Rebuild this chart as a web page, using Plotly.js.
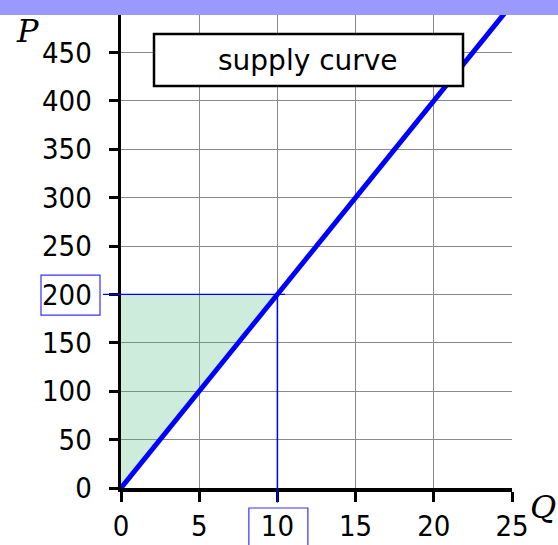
<!DOCTYPE html>
<html>
<head>
<meta charset="utf-8">
<script src="https://cdn.plot.ly/plotly-3.0.1.min.js"></script>
<style>html,body{margin:0;padding:0;background:#fff;}#chart{width:558px;height:545px;}</style>
</head>
<body>
<div id="chart"></div>
<script>
// Data
const supplyQ = [0, 25];
const supplyP = [0, 500];
const surplusQ = [0, 10, 0];
const surplusP = [0, 200, 200];
const eqQ = 10;
const eqP = 200;
const xTicks = [0, 5, 10, 15, 20, 25];
const yTicks = [0, 50, 100, 150, 200, 250, 300, 350, 400, 450];
const legendLabel = 'supply curve';

const xMax = 25, yMax = 500;
const px = q => q / xMax;   // data -> paper
const py = p => p / yMax;

const tickFont = {family: '"DejaVu Sans Condensed", "Liberation Sans", sans-serif', size: 29, color: '#000'};
const yPad = '\u00a0\u200a';

const traces = [
  {x: surplusQ, y: surplusP, mode: 'lines', fill: 'toself', fillcolor: 'rgba(60,179,113,0.25)',
   line: {width: 0}, hoverinfo: 'skip', showlegend: false},
  {x: supplyQ, y: supplyP, mode: 'lines', line: {color: '#0000ff', width: 5}, name: legendLabel, showlegend: false}
];

const layout = {
  width: 558, height: 545,
  margin: {l: 121, r: 46, t: 4, b: 57},
  paper_bgcolor: '#fff', plot_bgcolor: '#fff',
  showlegend: false,
  xaxis: {range: [0, xMax], tickvals: xTicks, ticktext: xTicks.map(String),
    showgrid: true, gridcolor: '#8a8a8a', gridwidth: 1, zeroline: false,
    showline: true, linecolor: '#000', linewidth: 3.5,
    ticks: 'outside', ticklen: 10, tickwidth: 3, tickcolor: '#000',
    tickfont: tickFont},
  yaxis: {range: [0, yMax], tickvals: yTicks, ticktext: yTicks.map(v => String(v) + yPad),
    showgrid: true, gridcolor: '#8a8a8a', gridwidth: 1, zeroline: false,
    showline: true, linecolor: '#000', linewidth: 3.5,
    ticks: 'outside', ticklen: 9, tickwidth: 3, tickcolor: '#000',
    tickfont: tickFont},
  shapes: [
    // guide lines
    {type: 'line', xref: 'paper', yref: 'paper', x0: px(-1.15), x1: px(eqQ + 0.5), y0: py(eqP), y1: py(eqP),
     line: {color: '#0000ff', width: 1.3}, layer: 'above'},
    {type: 'line', xref: 'paper', yref: 'paper', x0: px(eqQ), x1: px(eqQ), y0: py(eqP), y1: py(-15),
     line: {color: '#0000ff', width: 1.5}, layer: 'above'},
    // boxes around highlighted labels
    {type: 'rect', xref: 'paper', yref: 'paper', x0: -0.2046, x1: -0.0537, y0: 0.357, y1: 0.440,
     line: {color: '#3333ff', width: 1.2}, fillcolor: 'rgba(0,0,0,0)', layer: 'above'},
    {type: 'rect', xref: 'paper', yref: 'paper', x0: 0.327, x1: 0.478, y0: -0.2, y1: -0.0413,
     line: {color: '#3333ff', width: 1.2}, fillcolor: 'rgba(0,0,0,0)', layer: 'above'},
    // legend box
    {type: 'rect', xref: 'paper', yref: 'paper', x0: 0.0844, x1: 0.8747, y0: 0.8306, y1: 0.938,
     line: {color: '#000', width: 2.5}, fillcolor: '#fff', layer: 'above'},
    // top bar
    {type: 'rect', xref: 'paper', yref: 'paper', x0: -0.4, x1: 1.2, y0: 1 - 11/484, y1: 1.03,
     line: {width: 0}, fillcolor: '#9999ff', layer: 'above'}
  ],
  annotations: [
    {xref: 'paper', yref: 'paper', x: 0.4795, y: 0.884, text: legendLabel, showarrow: false,
     xanchor: 'center', yanchor: 'middle',
     font: {family: '"DejaVu Sans", sans-serif', size: 28, color: '#000'}},
    {xref: 'paper', yref: 'paper', x: -0.238, y: 0.945, text: 'P', showarrow: false,
     xanchor: 'center', yanchor: 'middle',
     font: {family: '"DejaVu Serif", "Liberation Serif", serif', size: 32, color: '#000', style: 'italic'}},
    {xref: 'paper', yref: 'paper', x: 1.08, y: -0.04, text: 'Q', showarrow: false,
     xanchor: 'center', yanchor: 'middle',
     font: {family: '"DejaVu Serif", "Liberation Serif", serif', size: 32, color: '#000', style: 'italic'}}
  ]
};

Plotly.newPlot('chart', traces, layout, {displayModeBar: false, staticPlot: true});
</script>
</body>
</html>
